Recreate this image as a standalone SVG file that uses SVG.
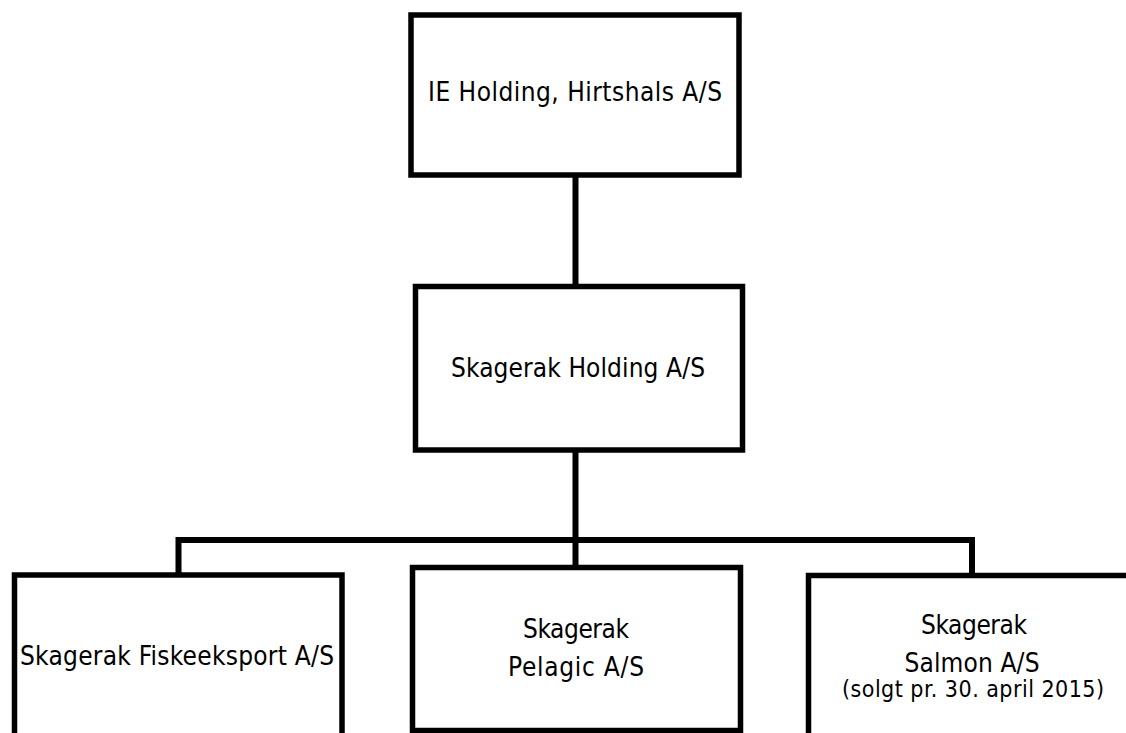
<svg xmlns="http://www.w3.org/2000/svg" width="1126" height="733" viewBox="0 0 1126 733">
<style>
.box{fill:#fff;stroke:#000;stroke-width:5.5}
.ln{fill:none;stroke:#000;stroke-width:6}
text{font-family:"DejaVu Sans Condensed","DejaVu Sans",Verdana,sans-serif;font-size:26px;fill:#000;text-anchor:middle}
.sm{font-size:23px}
</style>
<rect width="1126" height="733" fill="#fff"/>
<g id="connectors">
<line class="ln" x1="575.5" y1="175" x2="575.5" y2="287"/>
<line class="ln" x1="575.5" y1="450" x2="575.5" y2="568"/>
<polyline class="ln" points="178.5,575 178.5,540 972,540 972,575"/>
</g>
<g id="ie-holding">
<rect class="box" x="411" y="15" width="328" height="160"/>
<text x="575" y="101" textLength="294">IE Holding, Hirtshals A/S</text>
</g>
<g id="skagerak-holding">
<rect class="box" x="415.5" y="286.5" width="327" height="163.5"/>
<text x="578" y="377" textLength="254">Skagerak Holding A/S</text>
</g>
<g id="fiskeeksport">
<rect class="box" x="14.5" y="575" width="327.5" height="200"/>
<text x="177" y="665" textLength="314">Skagerak Fiskeeksport A/S</text>
</g>
<g id="pelagic">
<rect class="box" x="412.5" y="567.5" width="328" height="163"/>
<text x="576" y="638" textLength="106">Skagerak</text>
<text x="576" y="676" textLength="136">Pelagic A/S</text>
</g>
<g id="salmon">
<rect class="box" x="808.5" y="575.5" width="400" height="200"/>
<text x="974" y="634" textLength="106">Skagerak</text>
<text x="972" y="672" textLength="135">Salmon A/S</text>
<text class="sm" x="973" y="697" textLength="262">(solgt pr. 30. april 2015)</text>
</g>
</svg>
